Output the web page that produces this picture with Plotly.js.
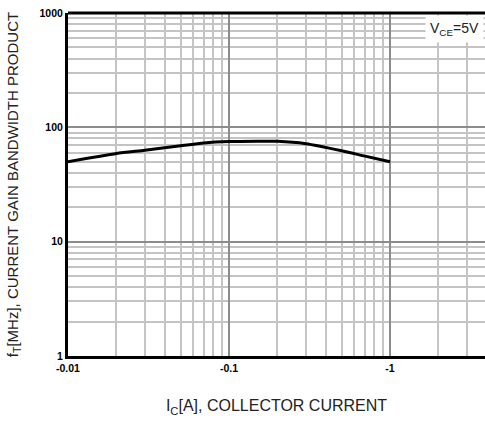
<!DOCTYPE html>
<html>
<head>
<meta charset="utf-8">
<script src="https://cdn.plot.ly/plotly-3.0.1.min.js"></script>
<style>html,body{margin:0;padding:0;background:#fff;}#chart{width:485px;height:426px;}</style>
</head>
<body>
<div id="chart"></div>
<script>
// Collector current magnitude [A] and transition frequency [MHz]
const currentA = [0.01, 0.02, 0.03, 0.05, 0.07, 0.1, 0.15, 0.2, 0.3, 0.5, 0.7, 1];
const ftMHz    = [50, 59, 63, 69, 73, 75, 75.5, 75.5, 72, 62.5, 56, 50];

const xTickVals = [0.01, 0.1, 1];
const xTickText = ['-0.01', '-0.1', '-1'];
const yTickVals = [1, 10, 100, 1000];
const yTickText = ['1', '10', '100', '1000'];

const conditionLabel = 'V<sub>CE</sub>=5V';

const trace = {
  x: currentA, y: ftMHz, type: 'scatter', mode: 'lines',
  line: {color: '#000', width: 3, shape: 'spline', smoothing: 0.6}, hoverinfo: 'skip'
};

const tickFont = {family: 'Liberation Sans, Arial, sans-serif', size: 10.5, color: '#000', weight: 'bold'};

const layout = {
  width: 485, height: 426,
  margin: {l: 68, r: 0, t: 13, b: 70},
  paper_bgcolor: '#fff', plot_bgcolor: '#fff',
  showlegend: false,
  xaxis: {
    type: 'log', range: [-2, 0.59],
    tickmode: 'array', tickvals: xTickVals, ticktext: xTickText,
    tickfont: tickFont, ticks: '', ticklen: 0,
    showline: true, linecolor: '#000', linewidth: 3,
    showgrid: true, gridcolor: '#8c8c8c', gridwidth: 2,
    minor: {showgrid: true, gridcolor: '#c4c4c4', gridwidth: 2, dtick: 'D1'},
    zeroline: false,
    title: {text: 'I<sub>C</sub>[A], COLLECTOR CURRENT', standoff: 28,
            font: {family: 'Liberation Sans, Arial, sans-serif', size: 16, color: '#222'}}
  },
  yaxis: {
    type: 'log', range: [0, 3],
    tickmode: 'array', tickvals: yTickVals, ticktext: yTickText,
    tickfont: tickFont, ticks: '', ticklen: 0,
    showline: true, linecolor: '#000', linewidth: 3,
    showgrid: true, gridcolor: '#8c8c8c', gridwidth: 2,
    minor: {showgrid: true, gridcolor: '#c4c4c4', gridwidth: 2, dtick: 'D1'},
    zeroline: false,
    title: {text: 'f<sub>T</sub>[MHz], CURRENT GAIN BANDWIDTH PRODUCT', standoff: 18,
            font: {family: 'Liberation Sans, Arial, sans-serif', size: 15, color: '#222'}}
  },
  shapes: [{
    type: 'line', xref: 'paper', yref: 'paper', x0: 0, x1: 1, y0: 1, y1: 1,
    line: {color: '#000', width: 3}
  }],
  annotations: [{
    text: conditionLabel, xref: 'paper', yref: 'paper', x: 0.997, y: 0.993,
    xanchor: 'right', yanchor: 'top', showarrow: false,
    font: {family: 'Liberation Sans, Arial, sans-serif', size: 14, color: '#222'},
    bgcolor: '#fff', borderpad: 4
  }]
};

Plotly.newPlot('chart', [trace], layout, {displayModeBar: false, staticPlot: true});
</script>
</body>
</html>
